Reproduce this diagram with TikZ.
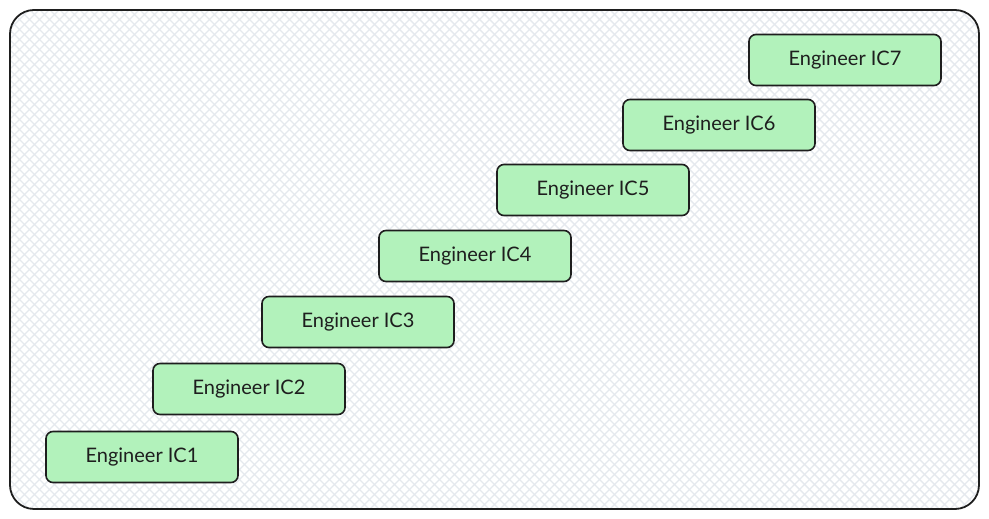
\documentclass[tikz,border=0pt]{standalone}
\usepackage{fontspec}
\setmainfont{Lato}
\definecolor{boxgreen}{HTML}{B2F2BB}
\definecolor{hatch}{HTML}{E5E9EE}
\definecolor{inkline}{HTML}{1E1E1E}
\tikzset{
  icbox/.style={draw=inkline, line width=1.6pt, fill=boxgreen, rounded corners=7pt,
    minimum width=192pt, minimum height=51pt, inner sep=0pt, font=\fontsize{20}{23}\selectfont, text=inkline},
  frame/.style={draw=inkline, line width=1.8pt, rounded corners=24pt},
}
\begin{document}
\begin{tikzpicture}[x=1pt,y=1pt]
\useasboundingbox (0,0) rectangle (989,519);
\begin{scope}
  \clip[rounded corners=24pt] (10,10) rectangle (979,509);
  \fill[white] (0,0) rectangle (989,519);
  \foreach \k in {-540,-530,...,1000} {
    \draw[hatch, line width=1.4pt] (\k,0) -- ++(520,520);
    \draw[hatch, line width=1.4pt] (\k+519,0) -- ++(-520,520);
  }
\end{scope}
\draw[frame] (10,10) rectangle (979,509);
\node[icbox] (ic1) at (142,62) {Engineer IC1};
\node[icbox] (ic2) at (249,130) {Engineer IC2};
\node[icbox] (ic3) at (358,197) {Engineer IC3};
\node[icbox] (ic4) at (475,263) {Engineer IC4};
\node[icbox] (ic5) at (593,329) {Engineer IC5};
\node[icbox] (ic6) at (719,394) {Engineer IC6};
\node[icbox] (ic7) at (845,459) {Engineer IC7};
\end{tikzpicture}
\end{document}
